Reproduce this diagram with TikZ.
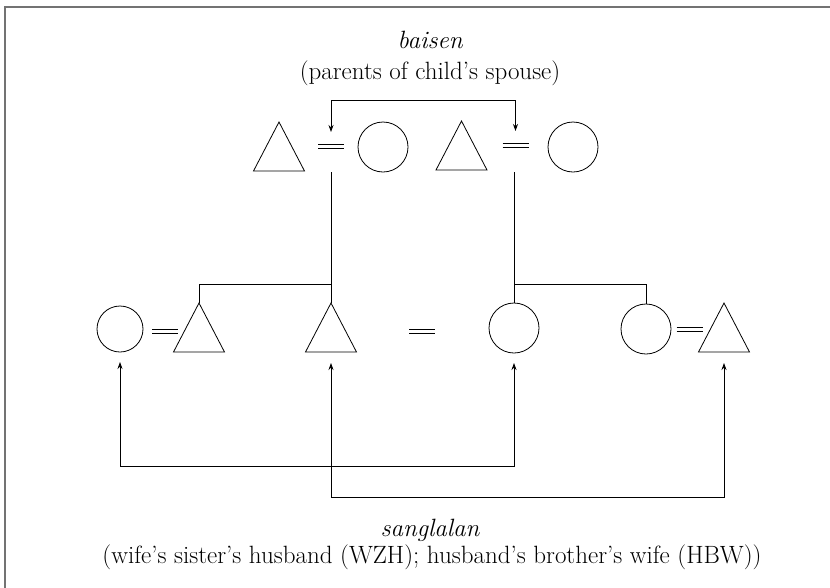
\documentclass[tikz,border=0pt]{standalone}
\usetikzlibrary{shapes.geometric,arrows.meta}
\begin{document}
\begin{tikzpicture}[x=1pt,y=-1pt,
  kin/.style={draw, line width=0.8pt, inner sep=0pt, outer sep=0pt},
  female/.style={kin, circle, minimum size=50pt},
  male/.style={kin, isosceles triangle, isosceles triangle stretches,
    shape border rotate=90, minimum width=51pt, minimum height=49pt, anchor=apex},
  eqmark/.style={inner sep=0pt, outer sep=0pt, minimum width=26pt, minimum height=4pt},
  link/.style={line width=0.8pt},
  arr/.style={link, -{Stealth[length=7pt,width=5pt]}},
  lbl/.style={font=\fontsize{25}{29}\selectfont, anchor=base}
]
\useasboundingbox (0,0) rectangle (830,587);
% outer frame
\draw[line width=1.6pt, black!55] (4.8,590) -- (4.8,6.8) -- (835,6.8);

% headings
\node[lbl] (baisen) at (430,48) {\itshape baisen};
\node[lbl] (baisenGloss) at (430,79) {(parents of child’s spouse)};
\node[lbl] (sang) at (430,536) {\itshape sanglalan};
\node[lbl] (sangGloss) at (432,563) {(wife’s sister’s husband (WZH); husband’s brother’s wife (HBW))};

% parents' generation
\node[male] (tA) at (279,122) {};
\node[eqmark] (eA) at (331,146) {};
\node[female] (cA) at (383,147) {};
\node[male] (tB) at (461.5,121) {};
\node[eqmark] (eB) at (515.5,145) {};
\node[female] (cB) at (573,147) {};

% children's generation
\node[female, minimum size=46pt] (cL) at (120,329) {};
\node[eqmark] (eL) at (165,331) {};
\node[male] (tL) at (199,303) {};
\node[male] (tM) at (331,303) {};
\node[eqmark] (eM) at (422,331) {};
\node[female] (cM) at (514,328) {};
\node[female] (cR) at (646,329) {};
\node[eqmark] (eR) at (689.5,329) {};
\node[male] (tR) at (724,303) {};

% marriage marks
\foreach \e in {eA,eB,eL,eM,eR}{
  \draw[link] (\e.north west) -- (\e.north east);
  \draw[link] (\e.south west) -- (\e.south east);
}

% descent and siblings
\coordinate (jL) at (331,284);
\coordinate (jR) at (514,284);
\draw[link] ([yshift=-26pt]eA.center) -- (tM.apex);
\draw[link] (tL.apex) |- (jL);
\draw[link] ([yshift=-27pt]eB.center -| cM.north) -- (cM.north);
\draw[link] (jR) -| (cR.north);

% baisen link between the two couples
\coordinate (bTop) at (331,100);
\draw[arr] (bTop) -- ([yshift=12pt]eA.north);
\draw[arr] (bTop) -| ([yshift=12pt]eB.north);

% sanglalan links
\coordinate (s1) at (120,466);
\coordinate (s2) at (331,497);
\draw[arr] (s1) -- ([yshift=-10pt]cL.south);
\draw[arr] (s1) -| ([yshift=-10pt]cM.south);
\draw[arr] (s2) -- ([yshift=-11pt]tM.south);
\draw[arr] (s2) -| ([yshift=-11pt]tR.south);
\end{tikzpicture}
\end{document}
